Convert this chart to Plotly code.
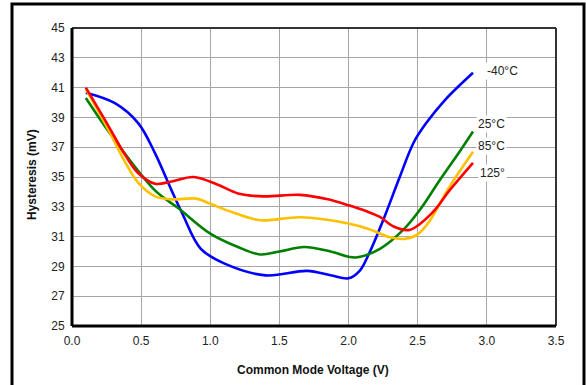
import plotly.graph_objects as go

# -40°C
x_m40 = [0.1, 0.31, 0.48, 0.6, 0.72, 0.8, 0.93, 1.1, 1.4, 1.7, 1.87, 2.0, 2.08, 2.15, 2.25, 2.37, 2.47, 2.56, 2.7, 2.9]
y_m40 = [40.65, 39.95, 38.6, 36.6, 34.1, 32.5, 30.2, 29.2, 28.4, 28.7, 28.4, 28.2, 28.7, 29.9, 32.1, 35.0, 37.3, 38.6, 40.2, 42.0]
# 25°C
x_25 = [0.1, 0.3, 0.6, 0.77, 1.0, 1.2, 1.36, 1.5, 1.68, 1.87, 2.05, 2.23, 2.4, 2.52, 2.66, 2.81, 2.9]
y_25 = [40.3, 37.6, 34.1, 32.9, 31.2, 30.3, 29.8, 30.0, 30.3, 30.0, 29.6, 30.2, 31.5, 32.85, 34.8, 36.8, 38.05]
# 125°C
x_125 = [0.1, 0.24, 0.39, 0.48, 0.6, 0.72, 0.88, 1.05, 1.2, 1.38, 1.65, 1.85, 2.0, 2.13, 2.23, 2.32, 2.44, 2.61, 2.73, 2.9]
y_125 = [41.0, 38.8, 36.4, 35.25, 34.55, 34.7, 35.0, 34.5, 33.9, 33.7, 33.8, 33.5, 33.1, 32.7, 32.3, 31.7, 31.45, 32.65, 34.1, 35.95]
# 85°C
x_85 = [0.1, 0.25, 0.39, 0.48, 0.6, 0.72, 0.9, 1.0, 1.17, 1.36, 1.65, 1.99, 2.15, 2.3, 2.41, 2.5, 2.59, 2.73, 2.9]
y_85 = [40.9, 38.4, 35.9, 34.6, 33.7, 33.5, 33.55, 33.2, 32.6, 32.1, 32.3, 31.9, 31.5, 30.95, 30.85, 31.15, 32.1, 34.35, 36.7]

x_ticks = [0, 0.5, 1, 1.5, 2, 2.5, 3, 3.5]
x_ticktext = ["0.0", "0.5", "1.0", "1.5", "2.0", "2.5", "3.0", "3.5"]
y_ticks = [25, 27, 29, 31, 33, 35, 37, 39, 41, 43, 45]

series = [
    ("-40°C", x_m40, y_m40, "#0000FF"),
    ("25°C", x_25, y_25, "#008000"),
    ("85°C", x_85, y_85, "#FFC000"),
    ("125°", x_125, y_125, "#FF0000"),
]
labels = [("-40°C", 3.11, 42.1), ("25°C", 3.035, 38.56), ("85°C", 3.035, 37.1), ("125°", 3.04, 35.25)]

fig = go.Figure()
for name, xs, ys, col in series:
    fig.add_trace(go.Scatter(x=xs, y=ys, mode="lines", name=name,
                             line=dict(color=col, width=2.6, shape="spline", smoothing=1.0)))

FONT = "Liberation Sans, Arial"
for txt, lx, ly in labels:
    fig.add_annotation(x=lx, y=ly, text=txt, showarrow=False, xanchor="center", yanchor="middle",
                       bgcolor="white", font=dict(size=12, color="#222", family=FONT))

W, H = 586, 385
L, R, T, B = 72, 30, 28, 59
pw, ph = W - L - R, H - T - B

fig.update_layout(
    width=W, height=H, showlegend=False,
    margin=dict(l=L, r=R, t=T, b=B, autoexpand=False),
    paper_bgcolor="white", plot_bgcolor="white",
    font=dict(family=FONT, size=12, color="#222"),
    xaxis=dict(range=[0, 3.5], tickvals=x_ticks, ticktext=x_ticktext, automargin=False,
               showgrid=True, gridcolor="#A6A6A6", gridwidth=1, zeroline=False,
               ticks="outside", ticklen=4, tickcolor="rgba(0,0,0,0)"),
    yaxis=dict(range=[25, 45], tickvals=y_ticks, automargin=False,
               showgrid=True, gridcolor="#A6A6A6", gridwidth=1, zeroline=False,
               ticks="outside", ticklen=4, tickcolor="rgba(0,0,0,0)"),
)

# axis titles
fig.add_annotation(xref="paper", yref="paper", x=(313 - L) / pw, y=-(370 - (T + ph)) / ph,
                   text="<b>Common Mode Voltage (V)</b>", showarrow=False,
                   xanchor="center", yanchor="middle", font=dict(size=12, color="#111", family=FONT))
fig.add_annotation(xref="paper", yref="paper", x=(32 - L) / pw, y=(T + ph - 175) / ph,
                   text="<b>Hysteresis (mV)</b>", showarrow=False, textangle=-90,
                   xanchor="center", yanchor="middle", font=dict(size=12, color="#111", family=FONT))

# plot frame: top/right dark gray, left/bottom black thick
fig.add_shape(type="line", xref="paper", yref="paper", x0=0, x1=1, y0=1, y1=1, line=dict(color="#333", width=2))
fig.add_shape(type="line", xref="paper", yref="paper", x0=1, x1=1, y0=0, y1=1, line=dict(color="#333", width=2))
fig.add_shape(type="line", xref="paper", yref="paper", x0=0, x1=0, y0=0, y1=1, line=dict(color="black", width=3))
fig.add_shape(type="line", xref="paper", yref="paper", x0=0, x1=1, y0=0, y1=0, line=dict(color="black", width=3))

# outer border
fig.add_shape(type="rect", xref="paper", yref="paper",
              x0=(12 - L) / pw, x1=(584 - L) / pw,
              y0=(T + ph - 390) / ph, y1=(T + ph - 4) / ph,
              line=dict(color="black", width=3), layer="above")

fig.write_html("out.html", config={"displayModeBar": False},
               post_script="document.body.style.margin='0';")
